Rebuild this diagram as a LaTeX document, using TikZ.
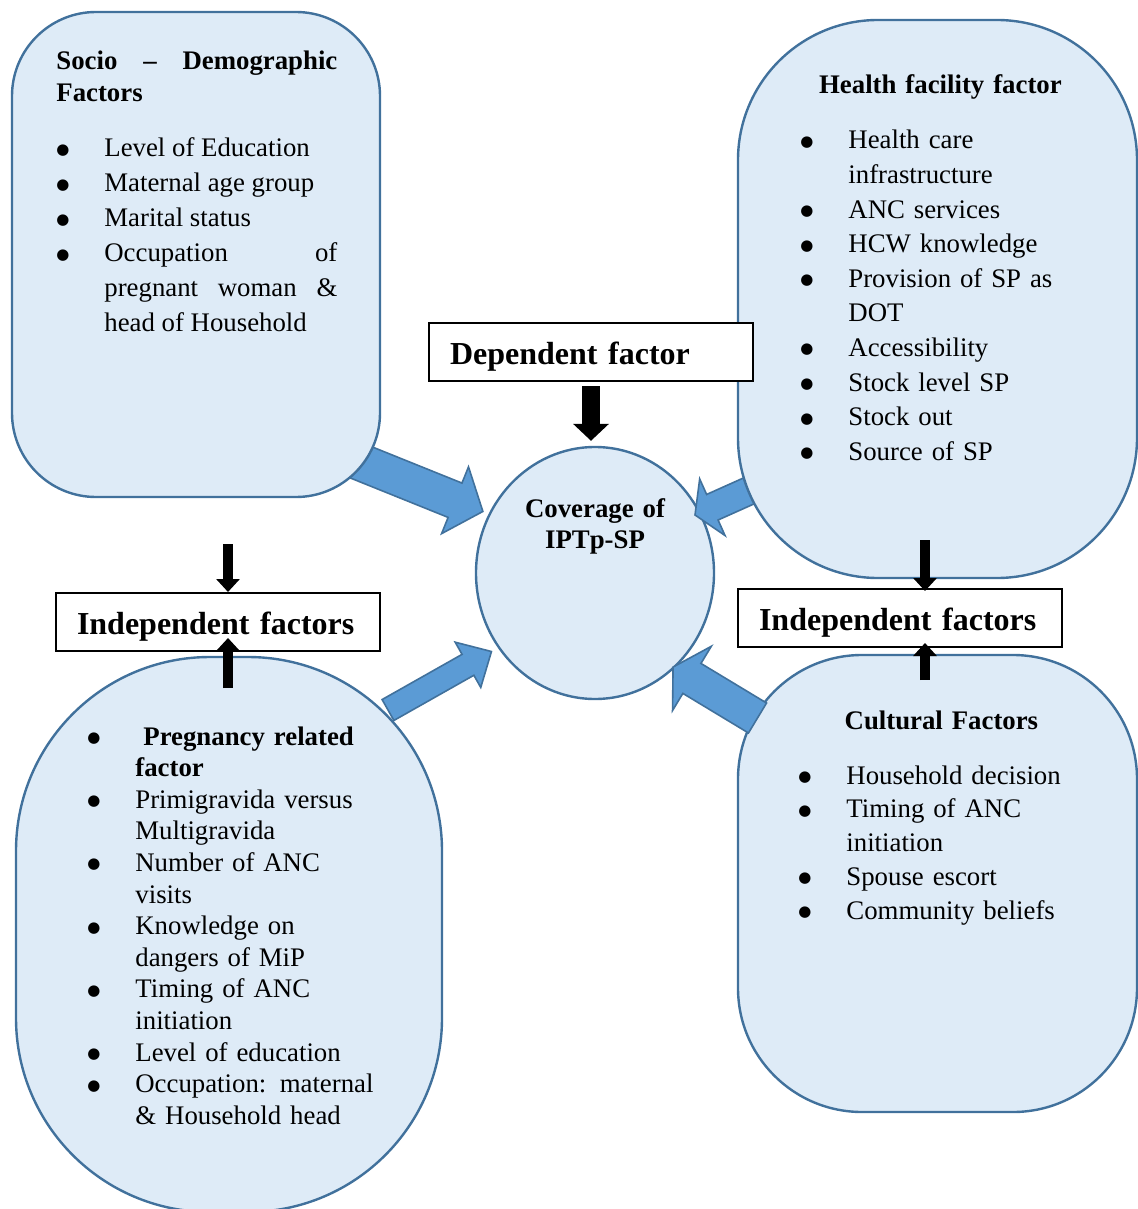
\documentclass[tikz,border=0pt]{standalone}
\usepackage{fontspec}
\setmainfont{Liberation Serif}
\newfontfamily\bulletfont{DejaVu Sans}
\usetikzlibrary{arrows.meta,shapes.geometric,calc}

\definecolor{boxfill}{RGB}{222,235,247}
\definecolor{boxline}{RGB}{65,113,156}
\definecolor{arrowfill}{RGB}{91,155,213}

% bullet item with hanging indent
\newcommand{\fitem}[1]{\hangindent=24pt\hangafter=0\noindent
  \llap{\makebox[24pt][l]{\raisebox{1.3pt}{\bulletfont\fontsize{7.5}{7.5}\selectfont ●}}}#1\par}

\tikzset{
  factorbox/.style={draw=boxline, fill=boxfill, line width=1.2pt, inner sep=0pt},
  labelbox/.style={draw, line width=1pt, fill=white, inner xsep=10.5pt, inner ysep=0pt, text width=141pt,
    text height=15pt, text depth=2.5pt, minimum height=29pt, align=left, font=\fontsize{16}{19}\selectfont\bfseries},
  listtext/.style={inner sep=0pt, anchor=base west},
  bigblk/.style={line width=8.75pt, -{Triangle[width=17.5pt,length=8.5pt]}},
  smallblk/.style={line width=5.25pt, -{Triangle[width=11.5pt,length=6.5pt]}},
  bluearrow/.style n args={3}{draw=boxline, fill=arrowfill, line width=0.8pt,
    to path={let \p1=(\tikztostart), \p2=(\tikztotarget),
      \n1={atan2(\y2-\y1,\x2-\x1)}, \n2={veclen(\x2-\x1,\y2-\y1)} in
      ([shift={(\p1)},rotate=\n1]0pt,#1/2)
      -- ([shift={(\p1)},rotate=\n1]{\n2-#3},#1/2)
      -- ([shift={(\p1)},rotate=\n1]{\n2-#3},#2/2)
      -- ([shift={(\p1)},rotate=\n1]\n2,0pt)
      -- ([shift={(\p1)},rotate=\n1]{\n2-#3},-#2/2)
      -- ([shift={(\p1)},rotate=\n1]{\n2-#3},-#1/2)
      -- ([shift={(\p1)},rotate=\n1]0pt,-#1/2) -- cycle}}
}

\begin{document}
\begin{tikzpicture}[x=0.5pt, y=-0.5pt, every node/.style={font=\fontsize{13.4}{17.5}\selectfont}]
  \useasboundingbox (0,0) rectangle (1138,1209);

  \node (cov) at (595,573) [ellipse, factorbox, minimum width=119pt, minimum height=126pt] {};
  \coordinate (a1t) at (344,455.5);
  \coordinate (a1h) at (483,511.5);
  \coordinate (a2t) at (791,472);
  \coordinate (a2h) at (695,515);
  \draw[bluearrow={18.5pt}{36pt}{15pt}] (a1t) to (a1h);
  \draw[bluearrow={14pt}{31pt}{9.5pt}] (a2t) to (a2h);

  \node (socio) at (196,254.5) [factorbox, rounded corners=42pt, minimum width=184pt, minimum height=242.5pt] {};
  \node (health) at (937.5,299) [factorbox, rounded corners=70pt, minimum width=199.5pt, minimum height=279pt] {};
  \node (preg) at (229,934.5) [factorbox, rounded corners=97pt, minimum width=213pt, minimum height=277.5pt] {};
  \node (cult) at (937.5,883.5) [factorbox, rounded corners=62pt, minimum width=199.5pt, minimum height=228.5pt] {};

  \coordinate (a3t) at (388,710);
  \coordinate (a3h) at (491.5,651.5);
  \coordinate (a4t) at (757.5,718);
  \coordinate (a4h) at (673,667);
  \draw[bluearrow={12pt}{26pt}{13.5pt}] (a3t) to (a3h);
  \draw[bluearrow={17.5pt}{37.5pt}{11pt}] (a4t) to (a4h);

  \node (covtxt) at (595,517) [inner sep=0pt, anchor=base, text width=90pt, align=center,
    font=\fontsize{13.4}{15.5}\selectfont\bfseries] {Coverage of\\IPTp-SP};

  \node (sociotxt) at (56,70) [listtext, text width=140.5pt, align=justify] {%
    \tolerance=10000 \hyphenpenalty=10000
    {\fontsize{13.4}{16}\selectfont\bfseries Socio – Demographic Factors\par}
    \fontsize{13.4}{17.5}\selectfont\vspace{10pt}
    \fitem{Level of Education}
    \fitem{Maternal age group}
    \fitem{Marital status}
    \fitem{Occupation of\linebreak pregnant woman \&\linebreak head of Household}};

  \node (healthtxt) at (800,94) [listtext, text width=140pt, align=left] {%
    {\centering\fontsize{13.4}{17.3}\selectfont\bfseries Health facility factor\par}
    \fontsize{13.4}{17.3}\selectfont\vspace{10.2pt}
    \fitem{Health care\newline infrastructure}
    \fitem{ANC services}
    \fitem{HCW knowledge}
    \fitem{Provision of SP as\newline DOT}
    \fitem{Accessibility}
    \fitem{Stock level SP}
    \fitem{Stock out}
    \fitem{Source of SP}};

  \node (pregtxt) at (87,745) [listtext, text width=160pt, align=left] {%
    \fontsize{13.4}{15.8}\selectfont
    \fitem{\hspace{4pt}\textbf{Pregnancy related}\newline\textbf{factor}}
    \fitem{Primigravida versus\newline Multigravida}
    \fitem{Number of ANC\newline visits}
    \fitem{Knowledge on\newline dangers of MiP}
    \fitem{Timing of ANC\newline initiation}
    \fitem{Level of education}
    \fitem{Occupation: maternal\newline \& Household head}};

  \node (culttxt) at (798,729) [listtext, text width=143pt, align=left] {%
    {\centering\fontsize{13.4}{16.9}\selectfont\bfseries Cultural Factors\par}
    \fontsize{13.4}{16.9}\selectfont\vspace{10.6pt}
    \fitem{Household decision}
    \fitem{Timing of ANC\newline initiation}
    \fitem{Spouse escort}
    \fitem{Community beliefs}};

  \node (dep) at (591,352) [labelbox] {Dependent factor};
  \node (indl) at (218,622) [labelbox] {Independent factors};
  \node (indr) at (900,618) [labelbox] {Independent factors};

  \coordinate (sdl) at (228,544);
  \coordinate (pul) at (228,688);
  \coordinate (sdr) at (925,540);
  \coordinate (pur) at (925,680);
  \draw[bigblk] ([yshift=-2pt]dep.south) -- ([yshift=2.5pt]dep.south |- cov.north);
  \draw[smallblk] (sdl) -- (sdl |- indl.north);
  \draw[smallblk] (pul) -- ([yshift=7pt]pul |- indl.south);
  \draw[smallblk] (sdr) -- ([yshift=-1.5pt]sdr |- indr.north);
  \draw[smallblk] (pur) -- ([yshift=2.5pt]pur |- indr.south);
\end{tikzpicture}
\end{document}
